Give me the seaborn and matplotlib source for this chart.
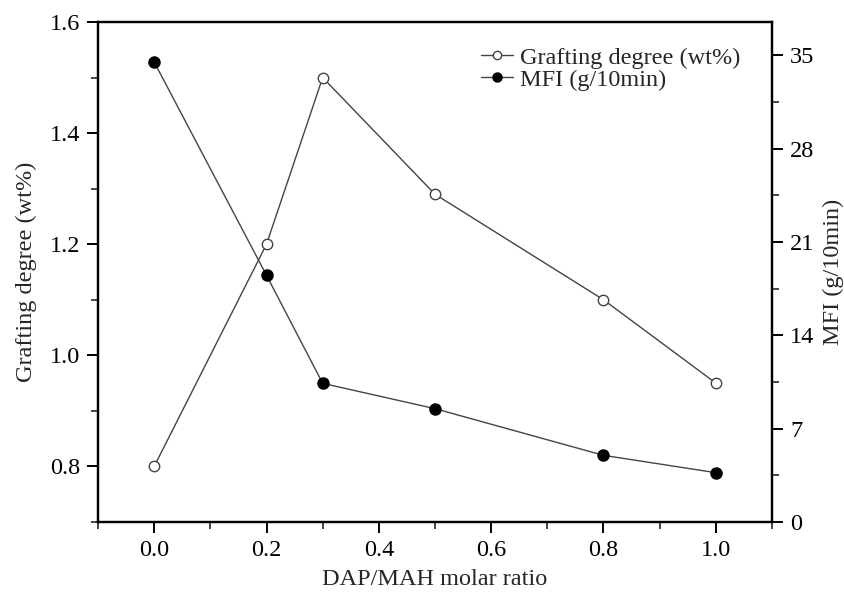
import matplotlib
matplotlib.use("Agg")
import matplotlib.pyplot as plt
import seaborn as sns
import pandas as pd
from matplotlib.ticker import MultipleLocator
from matplotlib.lines import Line2D

ratio = [0.0, 0.2, 0.3, 0.5, 0.8, 1.0]
grafting = [0.80, 1.20, 1.50, 1.29, 1.10, 0.95]
mfi = [34.5, 18.5, 10.4, 8.5, 5.0, 3.7]

sns.set_theme(style="ticks")
plt.rcParams['font.family'] = ['Liberation Serif', 'DejaVu Serif']

fs = 17.5
fig = plt.figure(figsize=(8.45, 6.0), dpi=100)
ax = fig.add_axes([0.116, 0.13, 0.7976, 0.8333])
ax2 = ax.twinx()

df = pd.DataFrame({"ratio": ratio, "grafting": grafting, "mfi": mfi})

sns.lineplot(data=df, x="ratio", y="grafting", ax=ax, color="#444444", lw=1.0,
             marker="o", markersize=7.5, markerfacecolor="white",
             markeredgecolor="#444444", markeredgewidth=1.0, legend=False)
sns.lineplot(data=df, x="ratio", y="mfi", ax=ax2, color="#444444", lw=1.0,
             marker="o", markersize=8, markerfacecolor="black",
             markeredgecolor="black", markeredgewidth=1.0, legend=False)

ax.set_xlim(-0.1, 1.1)
ax.set_ylim(0.7, 1.6)
ax2.set_ylim(0, 37.5)

ax.xaxis.set_major_locator(MultipleLocator(0.2))
ax.xaxis.set_minor_locator(MultipleLocator(0.1))
ax.yaxis.set_major_locator(MultipleLocator(0.2))
ax.yaxis.set_minor_locator(MultipleLocator(0.1))
ax2.yaxis.set_major_locator(MultipleLocator(7))
ax2.yaxis.set_minor_locator(MultipleLocator(3.5))

ax.set_xticks([0.0, 0.2, 0.4, 0.6, 0.8, 1.0])
ax.set_xticklabels(["0.0", "0.2", "0.4", "0.6", "0.8", "1.0"])
ax.set_yticks([0.8, 1.0, 1.2, 1.4, 1.6])
ax.set_yticklabels(["0.8", "1.0", "1.2", "1.4", "1.6"])
ax2.set_yticks([0, 7, 14, 21, 28, 35])
ax2.set_yticklabels(["0", "7", "14", "21", "28", "35"])

for a in (ax, ax2):
    for s in a.spines.values():
        s.set_linewidth(1.6)
        s.set_color("black")
    a.tick_params(which="major", direction="out", length=8, width=1.4,
                  labelsize=fs, colors="black", pad=5)
    a.tick_params(which="minor", direction="out", length=5, width=1.2)

ax.tick_params(axis="x", top=False)
ax.tick_params(axis="y", right=False)

ax.set_xlabel("DAP/MAH molar ratio", fontsize=fs, labelpad=6)
ax.set_ylabel("Grafting degree (wt%)", fontsize=fs, labelpad=9)
ax2.set_ylabel("MFI (g/10min)", fontsize=fs, labelpad=6)

handles = [
    Line2D([], [], color="#444444", lw=1.0, marker="o", markersize=6,
           markerfacecolor="white", markeredgecolor="#444444"),
    Line2D([], [], color="#444444", lw=1.0, marker="o", markersize=6.5,
           markerfacecolor="black", markeredgecolor="black"),
]
leg = ax2.legend(handles, ["Grafting degree (wt%)", "MFI (g/10min)"],
                 loc="upper right", bbox_to_anchor=(0.975, 0.98), frameon=False,
                 fontsize=fs, handlelength=1.3, handletextpad=0.3,
                 labelspacing=0.0, borderaxespad=0.2)

fig.savefig("out.png", dpi=100)
